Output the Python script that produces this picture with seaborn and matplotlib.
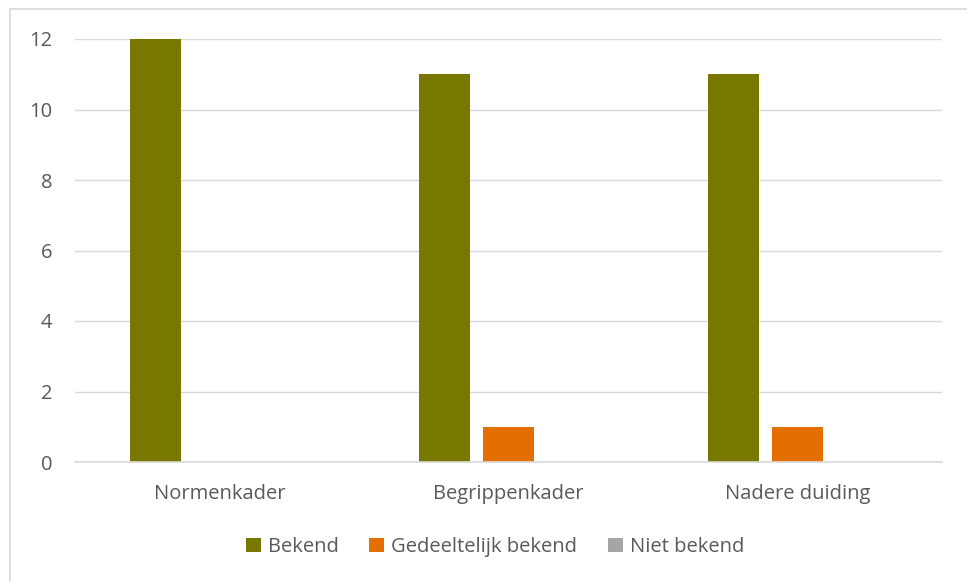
import matplotlib
matplotlib.use("Agg")
import matplotlib.pyplot as plt
import seaborn as sns
import pandas as pd
from matplotlib.patches import Patch
from matplotlib.lines import Line2D

categories = ["Normenkader", "Begrippenkader", "Nadere duiding"]
series = ["Bekend", "Gedeeltelijk bekend", "Niet bekend"]
bekend = [12, 11, 11]
gedeeltelijk = [0, 1, 1]
niet_bekend = [0, 0, 0]
yticks = [0, 2, 4, 6, 8, 10, 12]
colors = ["#787800", "#E36F00", "#A5A5A5"]

rows = []
for s, vals in zip(series, [bekend, gedeeltelijk, niet_bekend]):
    for c, v in zip(categories, vals):
        rows.append({"cat": c, "series": s, "value": v})
df = pd.DataFrame(rows)

sns.set_theme(style="white")
plt.rcParams['font.family'] = ['Open Sans', 'DejaVu Sans']
txt = "#595959"
fs = 14.5

fig = plt.figure(figsize=(9.67, 5.81), dpi=100)
ax = fig.add_axes([75/967, 1-462/581, (942-75)/967, (462-39)/581])

sns.barplot(data=df, x="cat", y="value", hue="series", palette=colors,
            width=0.664, gap=0.2, ax=ax, legend=False, saturation=1,
            edgecolor="none", linewidth=0)

ax.set_ylim(0, 12)
ax.set_xlim(-0.5, 2.5)
ax.set_yticks(yticks)
ax.set_yticklabels([str(t) for t in yticks], color=txt, fontsize=fs)
ax.set_xticks(range(len(categories)))
ax.set_xticklabels(categories, color=txt, fontsize=fs)
ax.set_xlabel("")
ax.set_ylabel("")
ax.yaxis.grid(True, color="#D9D9D9", linewidth=1)
ax.set_axisbelow(True)
for side in ["top", "right", "left"]:
    ax.spines[side].set_visible(False)
ax.spines["bottom"].set_color("#D9D9D9")
ax.spines["bottom"].set_linewidth(1.2)
ax.tick_params(axis="y", length=0, pad=16.5)
ax.tick_params(axis="x", length=0, pad=15.5)

handles = [Patch(facecolor=c, edgecolor="none") for c in colors]
fig.legend(handles, series, loc="center", bbox_to_anchor=(495/967, 1-547/581),
           ncol=3, frameon=False, fontsize=fs, labelcolor=txt,
           handlelength=0.75, handleheight=0.75, handletextpad=0.35,
           columnspacing=1.5)

# outer chart border (top and left visible)
fig.add_artist(Line2D([10/967, 1], [1-9/581, 1-9/581], color="#D9D9D9", lw=1.2, transform=fig.transFigure))
fig.add_artist(Line2D([10/967, 10/967], [0, 1-9/581], color="#D9D9D9", lw=1.2, transform=fig.transFigure))

fig.savefig("out.png", dpi=100, facecolor="white")
